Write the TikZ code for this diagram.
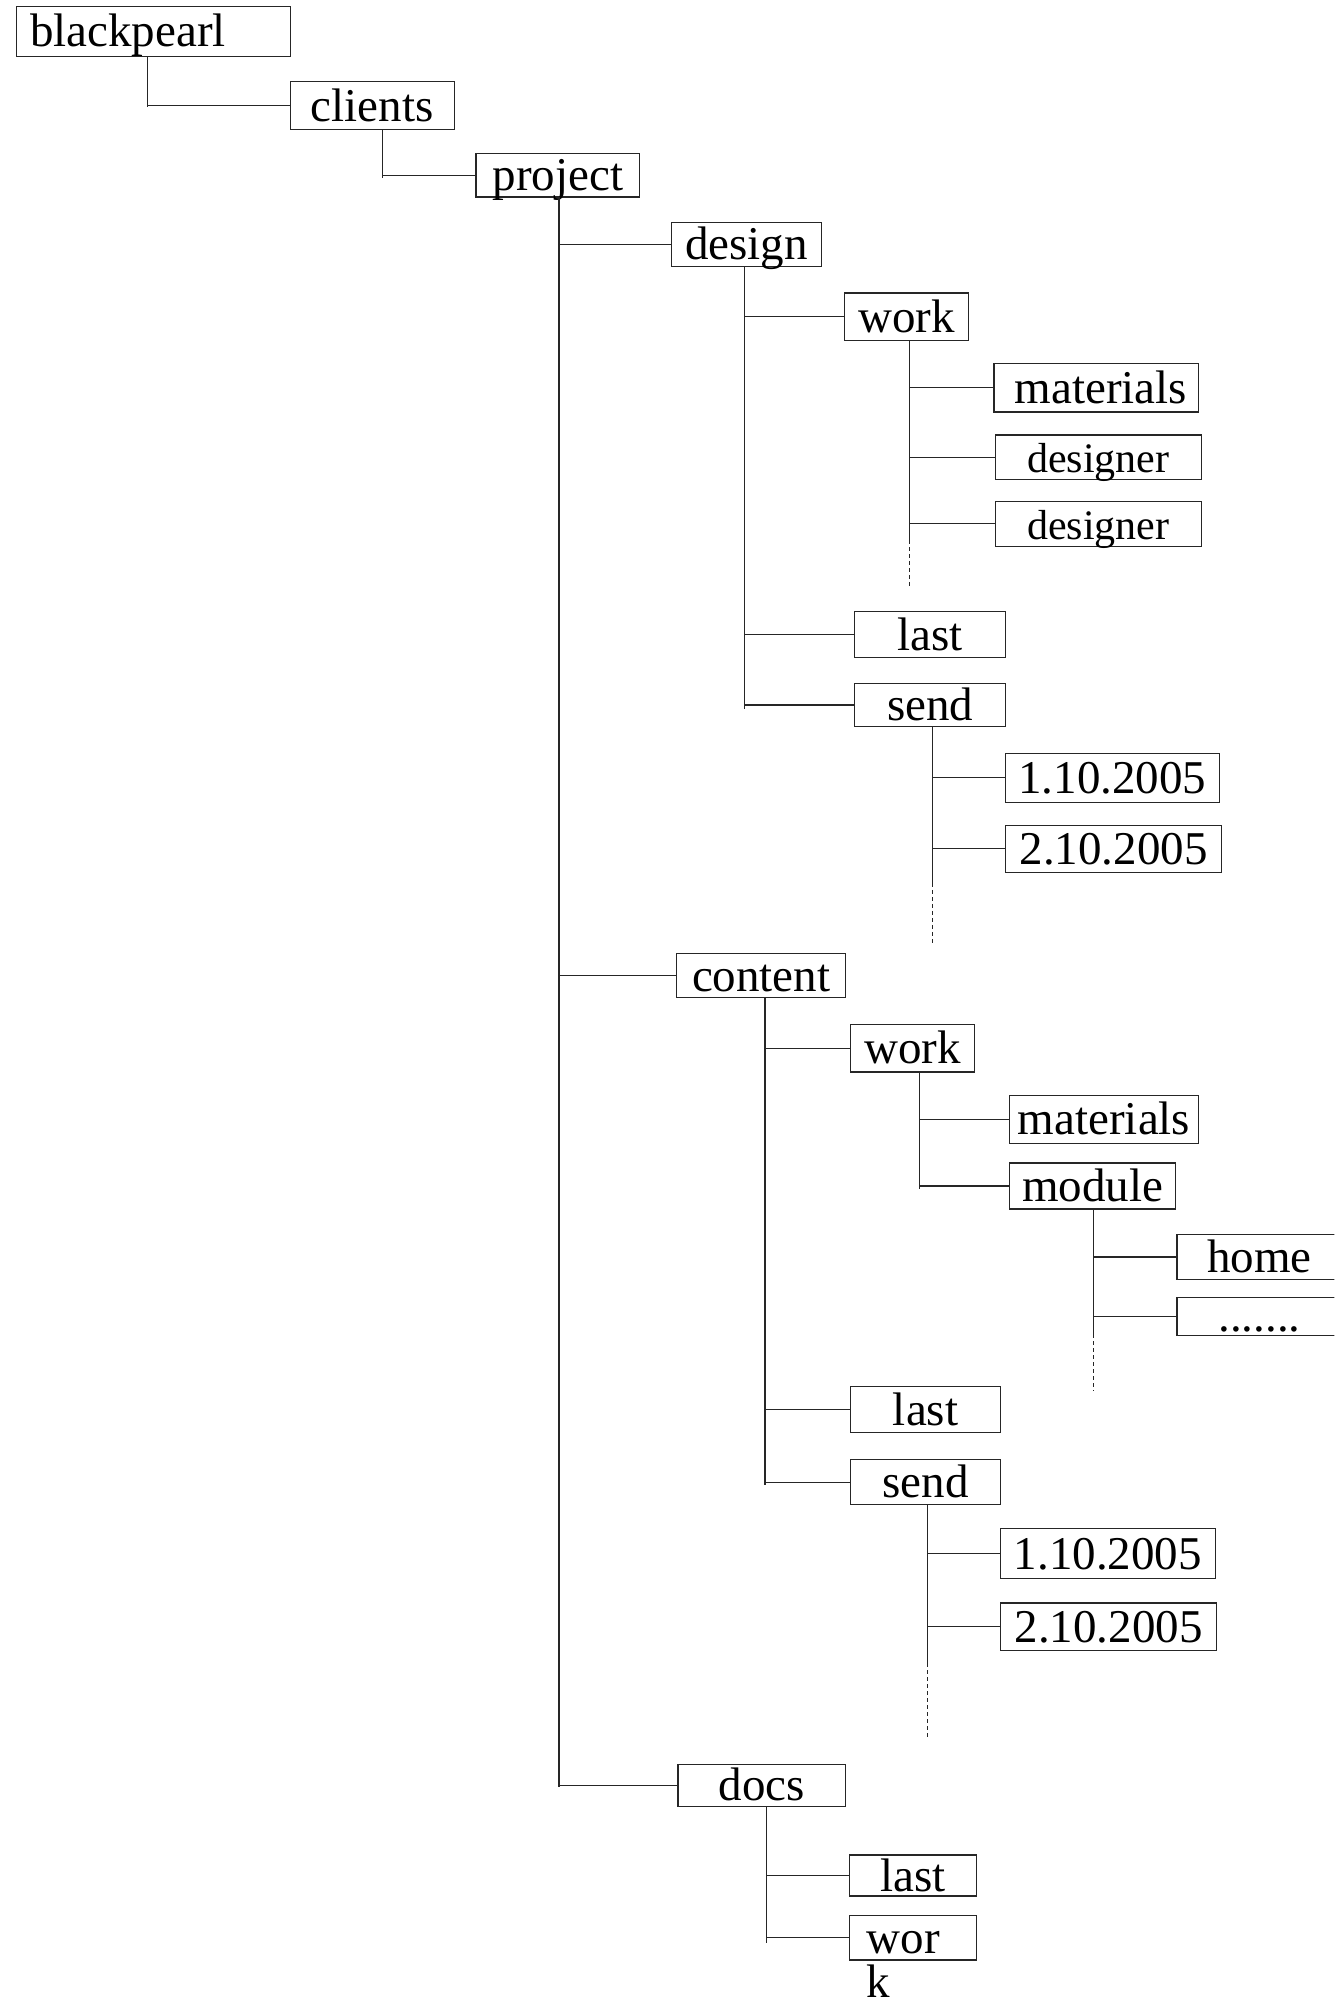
\documentclass[tikz,border=0pt]{standalone}
\usepackage{fontspec}
\usepackage{graphicx}
\setmainfont{Liberation Serif}
\usetikzlibrary{calc}
\newcommand\tx[1]{\raisebox{-15.5pt}[0pt][0pt]{#1}}
\newcommand\bigf{\fontsize{47}{56}\selectfont}
\newcommand\smf{\fontsize{42}{50}\selectfont}
\colorlet{ln}{black!85}
\tikzset{
  bx/.style n args={2}{draw=ln, line width=1.2pt, rectangle, inner sep=0pt, outer sep=0pt,
     minimum width=#1*1.279pt, minimum height=#2*1.279pt, text height=0pt, text depth=0pt, font=\bigf},
  con/.style={draw=ln, line width=1.2pt},
  dsh/.style={draw=ln, line width=1.2pt, dash pattern=on 4pt off 3pt},
}
\begin{document}
\begin{tikzpicture}[x=1.279pt, y=-1.279pt]
\useasboundingbox (0,0) rectangle (1043,1568);
\clip (0,0) rectangle (1043,1568);
% boxes
\node[bx={214}{39}] (blackpearl) at (120,24.5) {\tx{blackpearl\hspace*{51pt}}};
\node[bx={128}{37}] (clients) at (291,82.5) {\tx{clients}};
\node[bx={128}{34}] (project) at (436,137) {\tx{project}};
\node[bx={117}{34}] (design) at (583.5,191) {\tx{design}};
\node[bx={97}{37}] (work1) at (708.5,247.5) {\tx{work}};
\node[bx={160}{38}] (materials1) at (857,303) {\tx{\hspace*{9pt}materials}};
\node[bx={161}{35}, font=\smf] (designer1) at (858.5,357.5) {\tx{designer}};
\node[bx={161}{35}, font=\smf] (designer2) at (858.5,409.5) {\tx{designer}};
\node[bx={118}{36}] (last1) at (727,496) {\tx{last}};
\node[bx={118}{34}] (send1) at (727,551) {\tx{send}};
\node[bx={167}{38}] (d11) at (869.5,608) {\tx{1.10.2005}};
\node[bx={169}{37}] (d21) at (870.5,663.5) {\tx{2.10.2005}};
\node[bx={132}{35}] (content) at (595,762.5) {\tx{content}};
\node[bx={97}{37}] (work2) at (713.5,819.5) {\tx{work}};
\node[bx={148}{38}] (materials2) at (863,875) {\tx{materials}};
\node[bx={130}{36}] (module) at (854,927) {\tx{module}};
\node[bx={129}{35}] (home) at (984.5,982.5) {\tx{home}};
\node[bx={129}{30}] (more) at (984.5,1029) {\tx{.......}};
\node[bx={117}{36}] (last2) at (723.5,1102) {\tx{last}};
\node[bx={117}{35}] (send2) at (723.5,1158.5) {\tx{send}};
\node[bx={168}{39}] (d12) at (866,1214.5) {\tx{1.10.2005}};
\node[bx={169}{37}] (d22) at (866.5,1271.5) {\tx{2.10.2005}};
\node[bx={131}{33}] (docs) at (595.5,1395.5) {\tx{docs}};
\node[bx={99}{32}] (last3) at (713.5,1466) {\tx{last}};
\node[bx={99}{35}] (wor) at (713.5,1514.5) {\tx{wor\hspace*{19pt}}};
\node[font=\bigf, anchor=base west, inner sep=0pt] (k) at (677,1561) {k};
% trunk ends
\coordinate (tb) at (115,84);
\coordinate (tc) at (299,139);
\coordinate (tp) at (437,1397);
\coordinate (td) at (582,554);
\coordinate (tw1) at (711,422); \coordinate (tw1e) at (711,460);
\coordinate (ts1) at (729,690); \coordinate (ts1e) at (729,738);
\coordinate (tct) at (598,1161);
\coordinate (tw2) at (719,929);
\coordinate (tm) at (855,1043); \coordinate (tme) at (855,1087);
\coordinate (ts2) at (725,1300); \coordinate (ts2e) at (725,1360);
\coordinate (tdo) at (599,1519);
% trunks
\draw[con] (blackpearl.south -| tb) -- (tb);
\draw[con] (clients.south -| tc) -- (tc);
\draw[con] (project.south -| tp) -- (tp);
\draw[con] (design.south -| td) -- (td);
\draw[con] (work1.south -| tw1) -- (tw1);
\draw[dsh] (tw1) -- (tw1e);
\draw[con] (send1.south -| ts1) -- (ts1);
\draw[dsh] (ts1) -- (ts1e);
\draw[con] (content.south -| tct) -- (tct);
\draw[con] (work2.south -| tw2) -- (tw2);
\draw[con] (module.south -| tm) -- (tm);
\draw[dsh] (tm) -- (tme);
\draw[con] (send2.south -| ts2) -- (ts2);
\draw[dsh] (ts2) -- (ts2e);
\draw[con] (docs.south -| tdo) -- (tdo);
% branches
\draw[con] (tb |- clients.west) -- (clients.west);
\draw[con] (tc |- project.west) -- (project.west);
\draw[con] (tp |- design.west) -- (design.west);
\draw[con] (tp |- content.west) -- (content.west);
\draw[con] (tp |- docs.west) -- (docs.west);
\draw[con] (td |- work1.west) -- (work1.west);
\draw[con] (td |- last1.west) -- (last1.west);
\draw[con] (td |- send1.west) -- (send1.west);
\draw[con] (tw1 |- materials1.west) -- (materials1.west);
\draw[con] (tw1 |- designer1.west) -- (designer1.west);
\draw[con] (tw1 |- designer2.west) -- (designer2.west);
\draw[con] (ts1 |- d11.west) -- (d11.west);
\draw[con] (ts1 |- d21.west) -- (d21.west);
\draw[con] (tct |- work2.west) -- (work2.west);
\draw[con] (tct |- last2.west) -- (last2.west);
\draw[con] (tct |- send2.west) -- (send2.west);
\draw[con] (tw2 |- materials2.west) -- (materials2.west);
\draw[con] (tw2 |- module.west) -- (module.west);
\draw[con] (tm |- home.west) -- (home.west);
\draw[con] (tm |- more.west) -- (more.west);
\draw[con] (ts2 |- d12.west) -- (d12.west);
\draw[con] (ts2 |- d22.west) -- (d22.west);
\draw[con] (tdo |- last3.west) -- (last3.west);
\draw[con] (tdo |- wor.west) -- (wor.west);
\end{tikzpicture}
\end{document}
